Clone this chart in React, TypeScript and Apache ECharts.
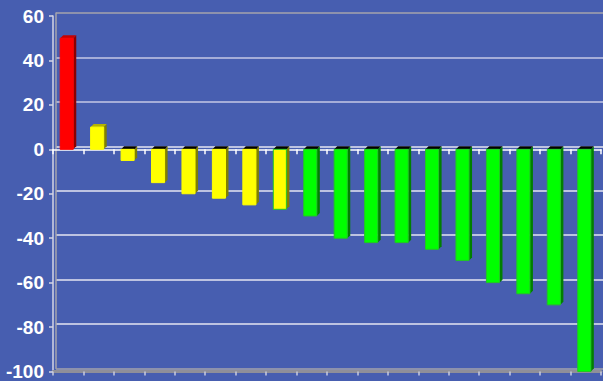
import React, { useEffect, useRef } from "react";
import * as echarts from "echarts";

// Bar positions (not labelled on the chart)
const categories = ["1", "2", "3", "4", "5", "6", "7", "8", "9", "10", "11", "12", "13", "14", "15", "16", "17", "18"];

// Bar values
const values = [50, 10, -5, -15, -20, -22, -25, -27, -30, -40, -42, -42, -45, -50, -60, -65, -70, -100];

// Colour group of each bar
const tones = [
  "red", "yellow", "yellow", "yellow", "yellow", "yellow", "yellow", "yellowEdge",
  "green", "green", "green", "green", "green", "green", "green", "green", "green", "green",
];

// Value axis range and step
const yMin = -100;
const yMax = 60;
const yStep = 20;

const palette: Record<string, { front: string; side: string; top: string; border: string }> = {
  red: { front: "#ff0000", side: "#8c0000", top: "#c80000", border: "#ff0000" },
  yellow: { front: "#ffff00", side: "#7f7f00", top: "#b4b400", border: "#ffff00" },
  yellowEdge: { front: "#ffff00", side: "#7f7f00", top: "#b4b400", border: "#22c822" },
  green: { front: "#00ff00", side: "#007f00", top: "#00b400", border: "#22c822" },
};

const BG = "#475eb0";
const DEPTH = 3;

export default function App() {
  const ref = useRef<HTMLDivElement>(null);

  useEffect(() => {
    document.body.style.margin = "0";
    const chart = echarts.init(ref.current!, null, { renderer: "svg" });

    const renderItem = (params: any, api: any) => {
      const i = api.value(0);
      const v = api.value(1);
      const base = api.coord([i, 0]);
      const tip = api.coord([i, v]);
      const band = api.size([1, 0])[0];
      const w = band * 0.43;
      const d = DEPTH;
      const left = base[0] - (w + d) / 2;
      const right = left + w;
      const yTop = Math.min(base[1], tip[1]);
      const yBot = Math.max(base[1], tip[1]);
      const tone = palette[tones[params.dataIndex]];
      return {
        type: "group",
        children: [
          {
            type: "polygon",
            shape: { points: [[right, yTop], [right + d, yTop - d], [right + d, yBot - d], [right, yBot]] },
            style: { fill: tone.side },
          },
          {
            type: "polygon",
            shape: { points: [[left, yTop], [left + d, yTop - d], [right + d, yTop - d], [right, yTop]] },
            style: { fill: v >= 0 ? tone.top : "#000000" },
          },
          {
            type: "rect",
            shape: { x: left, y: yTop, width: w, height: yBot - yTop },
            style: { fill: tone.front, stroke: tone.border, lineWidth: 1 },
          },
        ],
      };
    };

    chart.setOption({
      animation: false,
      backgroundColor: BG,
      grid: [
        { left: 53, right: 2, top: 16, bottom: 9.5 },
        { left: 56, right: -1, top: 13, bottom: 12.5 },
      ],
      xAxis: [
        {
          type: "category",
          gridIndex: 0,
          data: categories,
          position: "bottom",
          axisLine: { onZero: true, lineStyle: { color: "#ffffff", width: 1.5 } },
          axisTick: { show: true, length: 5, lineStyle: { color: "#ffffff", width: 1.5 } },
          axisLabel: { show: false },
          splitLine: { show: false },
          z: 1,
        },
        {
          type: "category",
          gridIndex: 0,
          data: categories,
          position: "bottom",
          axisLine: { onZero: false, lineStyle: { color: "#8f8f99", width: 3 } },
          axisTick: { show: true, length: 4, lineStyle: { color: "#c8cce0", width: 1.5 } },
          axisLabel: { show: false },
          splitLine: { show: false },
        },
        {
          type: "category",
          gridIndex: 1,
          data: categories,
          show: false,
        },
      ],
      yAxis: [
        {
          type: "value",
          gridIndex: 0,
          min: yMin,
          max: yMax,
          interval: yStep,
          axisLine: { show: true, lineStyle: { color: "#d4d6e6", width: 1.5 } },
          axisTick: { show: true, length: 4, lineStyle: { color: "#d4d6e6", width: 1.5 } },
          axisLabel: {
            color: "#ffffff",
            fontFamily: "Liberation Sans, Arial, sans-serif",
            fontWeight: "bold",
            fontSize: 19,
            margin: 9,
          },
          splitLine: { show: false },
        },
        {
          type: "value",
          gridIndex: 1,
          min: yMin,
          max: yMax,
          interval: yStep,
          axisLine: { show: true, lineStyle: { color: "#a4a4ac", width: 1.5 } },
          axisTick: { show: false },
          axisLabel: { show: false },
          splitLine: {
            show: true,
            lineStyle: {
              color: ["#a4a4ac", "#e4e6f2", "#e4e6f2", "#e4e6f2", "#e4e6f2", "#e4e6f2", "#c4c8e6", "#c4c8e6", "#a4a4ac"],
              width: 1.5,
            },
          },
        },
      ],
      series: [
        {
          type: "custom",
          xAxisIndex: 0,
          yAxisIndex: 0,
          renderItem,
          encode: { x: 0, y: 1 },
          data: values.map((v, i) => [i, v]),
          z: 3,
        },
      ],
    });

    return () => chart.dispose();
  }, []);

  return <div ref={ref} style={{ width: 603, height: 381 }} />;
}
